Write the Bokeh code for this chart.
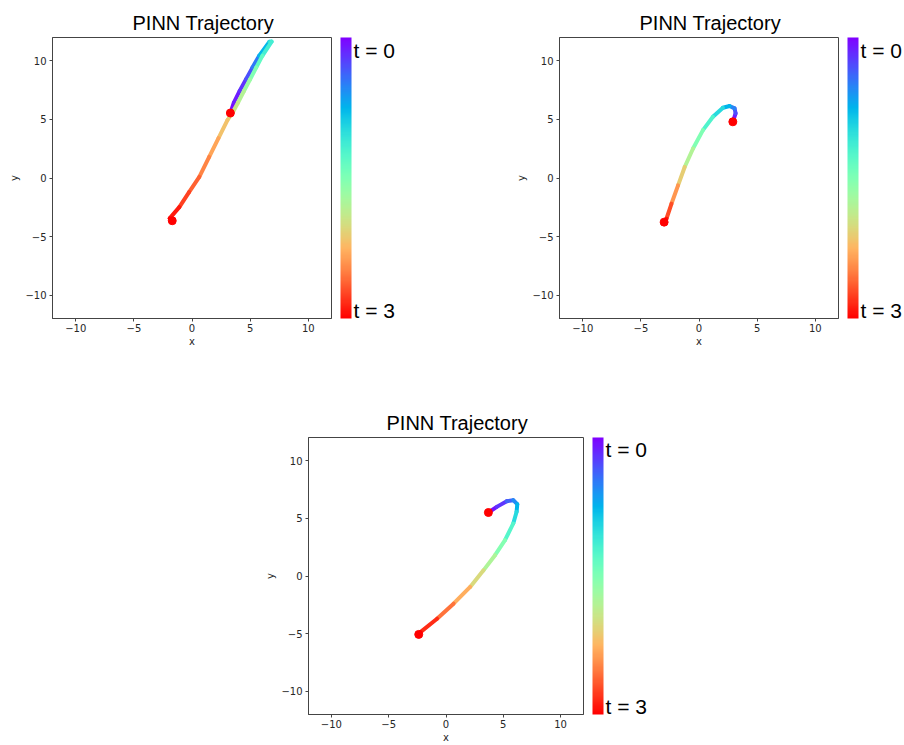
import numpy as np
from bokeh.plotting import figure
from bokeh.models import ColumnDataSource, ColorBar, LinearColorMapper, FixedTicker, Spacer
from bokeh.layouts import row, column
from bokeh.transform import linear_cmap
from bokeh.embed import file_html
from bokeh.resources import INLINE

# ---------------- data ----------------
TITLE = "PINN Trajectory"
T_MIN, T_MAX = 0.0, 3.0
CBAR_TOP_LABEL = "t = 0"
CBAR_BOTTOM_LABEL = "t = 3"
AXIS_TICKS = [-10, -5, 0, 5, 10]
AXIS_TICK_LABELS = ["−10", "−5", "0", "5", "10"]

# trajectory 1
x1 = [3.30, 3.60, 4.10, 4.65, 5.20, 5.77, 6.65, 6.85, 6.05, 5.52, 5.00, 4.47, 3.95, 3.50, 3.05, 2.28, 1.48, 0.63, -0.25, -1.09, -1.92, -1.70]
y1 = [5.55, 6.43, 7.43, 8.43, 9.43, 10.43, 11.63, 11.65, 10.43, 9.43, 8.43, 7.43, 6.43, 5.60, 4.95, 3.40, 1.80, 0.09, -1.20, -2.49, -3.45, -3.65]
t1 = [0.00, 0.08, 0.15, 0.23, 0.38, 0.58, 0.95, 1.05, 1.25, 1.42, 1.60, 1.75, 1.88, 1.98, 2.10, 2.25, 2.40, 2.55, 2.68, 2.82, 2.97, 3.00]

# trajectory 2
x2 = [2.91, 3.15, 3.06, 2.63, 2.06, 1.20, 0.34, -0.51, -1.23, -1.80, -2.37, -2.80, -3.00]
y2 = [4.80, 5.52, 5.95, 6.15, 6.00, 5.23, 4.09, 2.52, 0.94, -0.63, -2.20, -3.48, -3.77]
t2 = [0.00, 0.20, 0.40, 0.65, 0.85, 1.10, 1.35, 1.65, 1.95, 2.25, 2.55, 2.85, 3.00]

# trajectory 3
x3 = [3.70, 4.43, 5.30, 5.87, 6.22, 6.16, 5.87, 5.15, 4.28, 3.27, 2.11, 0.66, -0.78, -2.23, -2.38]
y3 = [5.50, 5.99, 6.48, 6.57, 6.22, 5.56, 4.55, 3.10, 1.80, 0.49, -0.95, -2.40, -3.70, -4.86, -5.06]
t3 = [0.00, 0.12, 0.30, 0.45, 0.65, 0.85, 1.10, 1.40, 1.65, 1.90, 2.15, 2.40, 2.70, 2.95, 3.00]


# ---------------- style helpers ----------------
def rainbow_palette(n=256):
    cols = []
    for i in range(n):
        v = i / (n - 1)
        r = min(1.0, abs(2 * v - 0.5))
        g = max(0.0, np.sin(np.pi * v))
        b = max(0.0, np.cos(np.pi * v / 2))
        cols.append("#%02x%02x%02x" % (int(round(r * 255)), int(round(g * 255)), int(round(b * 255))))
    return cols


PALETTE = rainbow_palette()
FRAME_COLOR = "#444444"
TEXT_COLOR = "#262626"


def make_panel(xs, ys, ts, width, height, bottom, title_offset):
    p = figure(width=width, height=height, output_backend="svg", toolbar_location=None,
               x_range=(-12, 12), y_range=(-12, 12),
               min_border_left=52, min_border_right=64, min_border_top=37, min_border_bottom=bottom)
    p.background_fill_color = "white"
    p.border_fill_color = "white"
    p.outline_line_color = FRAME_COLOR
    p.outline_line_width = 1
    p.grid.visible = False

    # title (centred over plot + colour bar)
    p.title.text = TITLE
    p.title.text_font = "Liberation Sans"
    p.title.text_font_size = "20px"
    p.title.text_font_style = "normal"
    p.title.text_color = "black"
    p.title.align = "left"
    p.title.offset = title_offset
    p.title.standoff = 7

    for ax, lab in ((p.xaxis[0], "x"), (p.yaxis[0], "y")):
        ax.ticker = FixedTicker(ticks=AXIS_TICKS)
        ax.major_label_overrides = {k: v for k, v in zip(AXIS_TICKS, AXIS_TICK_LABELS)}
        ax.axis_label = lab
        ax.axis_label_text_font = "DejaVu Sans"
        ax.axis_label_text_font_size = "10px"
        ax.axis_label_text_font_style = "normal"
        ax.axis_label_text_color = TEXT_COLOR
        ax.major_label_text_font = "DejaVu Sans"
        ax.major_label_text_font_size = "10px"
        ax.major_label_text_color = TEXT_COLOR
        ax.axis_line_color = FRAME_COLOR
        ax.major_tick_line_color = FRAME_COLOR
        ax.major_tick_out = 3
        ax.major_tick_in = 0
        ax.minor_tick_line_color = None
        ax.major_label_standoff = 3
        ax.axis_label_standoff = 2
    p.xaxis[0].major_label_standoff = 2
    p.xaxis[0].axis_label_standoff = 1

    src = ColumnDataSource(dict(
        x0=xs[:-1], y0=ys[:-1], x1=xs[1:], y1=ys[1:],
        tm=[(a + b) / 2 for a, b in zip(ts[:-1], ts[1:])],
    ))
    p.segment("x0", "y0", "x1", "y1", source=src,
              line_color=linear_cmap("tm", PALETTE, T_MIN, T_MAX),
              line_width=4, line_cap="round")
    p.scatter([xs[0], xs[-1]], [ys[0], ys[-1]], size=8, color="red", line_color="red")

    # colour bar: t = 0 at the top (purple), t = 3 at the bottom (red)
    mapper = LinearColorMapper(palette=PALETTE[::-1], low=T_MIN, high=T_MAX)
    top_tick = T_MAX - 0.045 * (T_MAX - T_MIN)
    bot_tick = T_MIN + 0.03 * (T_MAX - T_MIN)
    cb = ColorBar(color_mapper=mapper, width=11, padding=0, margin=0, location=(9, 0),
                  ticker=FixedTicker(ticks=[bot_tick, top_tick]),
                  major_label_overrides={bot_tick: CBAR_BOTTOM_LABEL, top_tick: CBAR_TOP_LABEL},
                  major_label_text_font="Liberation Sans",
                  major_label_text_font_size="21px",
                  major_label_text_color="black",
                  major_tick_line_color=None,
                  minor_tick_line_color=None,
                  major_tick_out=0, major_tick_in=0,
                  minor_tick_out=0, minor_tick_in=0,
                  bar_line_color=None,
                  border_line_color=None,
                  background_fill_color=None,
                  label_standoff=2)
    p.add_layout(cb, "right")
    return p


p1 = make_panel(x1, y1, t1, 397, 363, 45, 80)
p2 = make_panel(x2, y2, t2, 397, 363, 45, 80)
p3 = make_panel(x3, y3, t3, 393, 345, 31, 78)

layout = column(
    row(p1, Spacer(width=110), p2, spacing=0),
    Spacer(height=37),
    row(Spacer(width=256), p3, spacing=0),
    spacing=0,
)

open("out.html", "w").write(file_html(layout, INLINE))
